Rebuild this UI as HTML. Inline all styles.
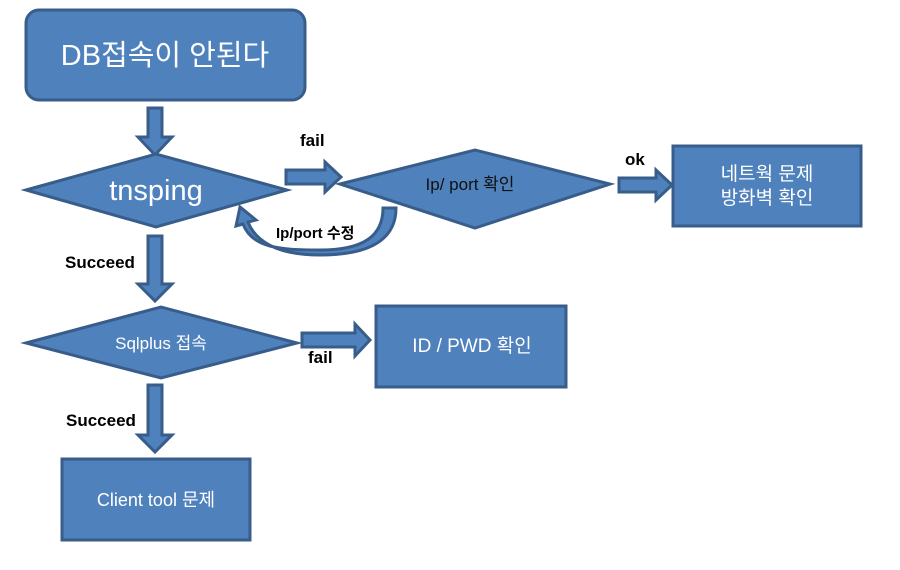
<!DOCTYPE html>
<html><head><meta charset="utf-8"><style>
html,body{margin:0;padding:0;background:#fff;width:900px;height:570px;overflow:hidden}
text{font-family:"Liberation Sans","Noto Sans CJK KR",sans-serif}
</style></head><body>
<svg width="900" height="570" viewBox="0 0 900 570" xmlns="http://www.w3.org/2000/svg">
<g fill="#4f81bd" stroke="#385d8a" stroke-width="3">
<rect x="26" y="10" width="279" height="90" rx="13"/>
<polygon points="148,108 162,108 162,137 172,137 155,155 138,137 148,137"/>
<polygon points="26,190 156,154 287,190 156,227"/>
<polygon points="286,170 325,170 325,162 341,177 325,192 325,184 286,184"/>
<polygon points="340,184 475,150 610,184 475,228"/>
<polygon points="619,178 656,178 656,170 672,185 656,200 656,192 619,192"/>
<rect x="673" y="146" width="188" height="80"/>
<polygon points="148,236 162,236 162,284 172,284 155,301 138,284 148,284"/>
<polygon points="26,343 161,307 297,343 161,378"/>
<polygon points="302,333 355,333 355,324 370,340 355,356 355,347 302,347"/>
<rect x="376" y="306" width="190" height="81"/>
<polygon points="148,385 162,385 162,435 172,435 155,452 138,435 148,435"/>
<rect x="62" y="459" width="188" height="81"/>
<path d="M383,208 L396,208 C396,245 360,255 320,255 C275,255 255,240 248,222 L256,220 L240,207 L236,226 L243,224 C252,248 280,250 320,250 C365,250 383,235 383,208 Z"/>
</g>
<g fill="#fff" text-anchor="middle">
<text x="165" y="65" font-size="29">DB접속이 안된다</text>
<text x="156" y="200" font-size="29">tnsping</text>
<text x="161" y="349" font-size="17">Sqlplus 접속</text>
<text x="472" y="352" font-size="19">ID / PWD 확인</text>
<text x="156" y="506" font-size="18">Client tool 문제</text>
<text x="767" y="180" font-size="19">네트웍 문제</text>
<text x="767" y="204" font-size="19">방화벽 확인</text>
</g>
<text x="470" y="190" font-size="17" fill="#111" text-anchor="middle">Ip/ port 확인</text>
<g font-weight="bold" fill="#000" font-size="17">
<text x="300" y="146">fail</text>
<text x="625" y="165">ok</text>
<text x="276" y="238" font-size="15">Ip/port 수정</text>
<text x="65" y="268">Succeed</text>
<text x="308" y="363">fail</text>
<text x="66" y="426">Succeed</text>
</g>
</svg>
</body></html>
